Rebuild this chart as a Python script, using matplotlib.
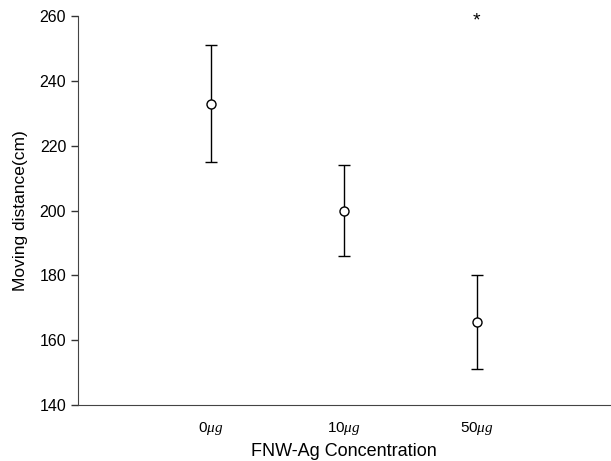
import matplotlib.pyplot as plt

plt.rcParams['font.family'] = ['Liberation Sans', 'DejaVu Sans']
plt.rcParams['mathtext.fontset'] = 'custom'
plt.rcParams['mathtext.it'] = 'Liberation Serif:italic'

labels = [r"0$\mu g$", r"10$\mu g$", r"50$\mu g$"]
positions = [1, 2, 3]
means = [233, 200, 165.5]
errors = [18, 14, 14.5]
star_value = 258.5

fig = plt.figure(figsize=(6.11, 4.61), dpi=100)
ax = fig.add_axes([0.1277, 0.1215, 0.8703, 0.8435])

ax.errorbar(positions, means, yerr=errors, fmt="o", color="black",
            mfc="white", mec="black", ms=6.5, mew=1, elinewidth=1,
            capsize=4.5, capthick=1)
ax.text(3, star_value, "*", ha="center", va="center", fontsize=14)

ax.set_xlim(0, 4)
ax.set_ylim(140, 260)
ax.set_yticks([140, 160, 180, 200, 220, 240, 260])
ax.set_xticks(positions)
ax.set_xticklabels(labels, fontsize=11)
ax.tick_params(axis="x", length=0, pad=11)
ax.tick_params(axis="y", labelsize=11.5, length=5, width=1, color="#333333")
ax.spines["top"].set_visible(False)
ax.spines["right"].set_visible(False)
ax.spines["left"].set_color("#444444")
ax.spines["bottom"].set_color("#444444")
ax.set_xlabel("FNW-Ag Concentration", fontsize=13, labelpad=4)
ax.set_ylabel("Moving distance(cm)", fontsize=12.5, labelpad=8)

fig.savefig("out.png", dpi=100)
